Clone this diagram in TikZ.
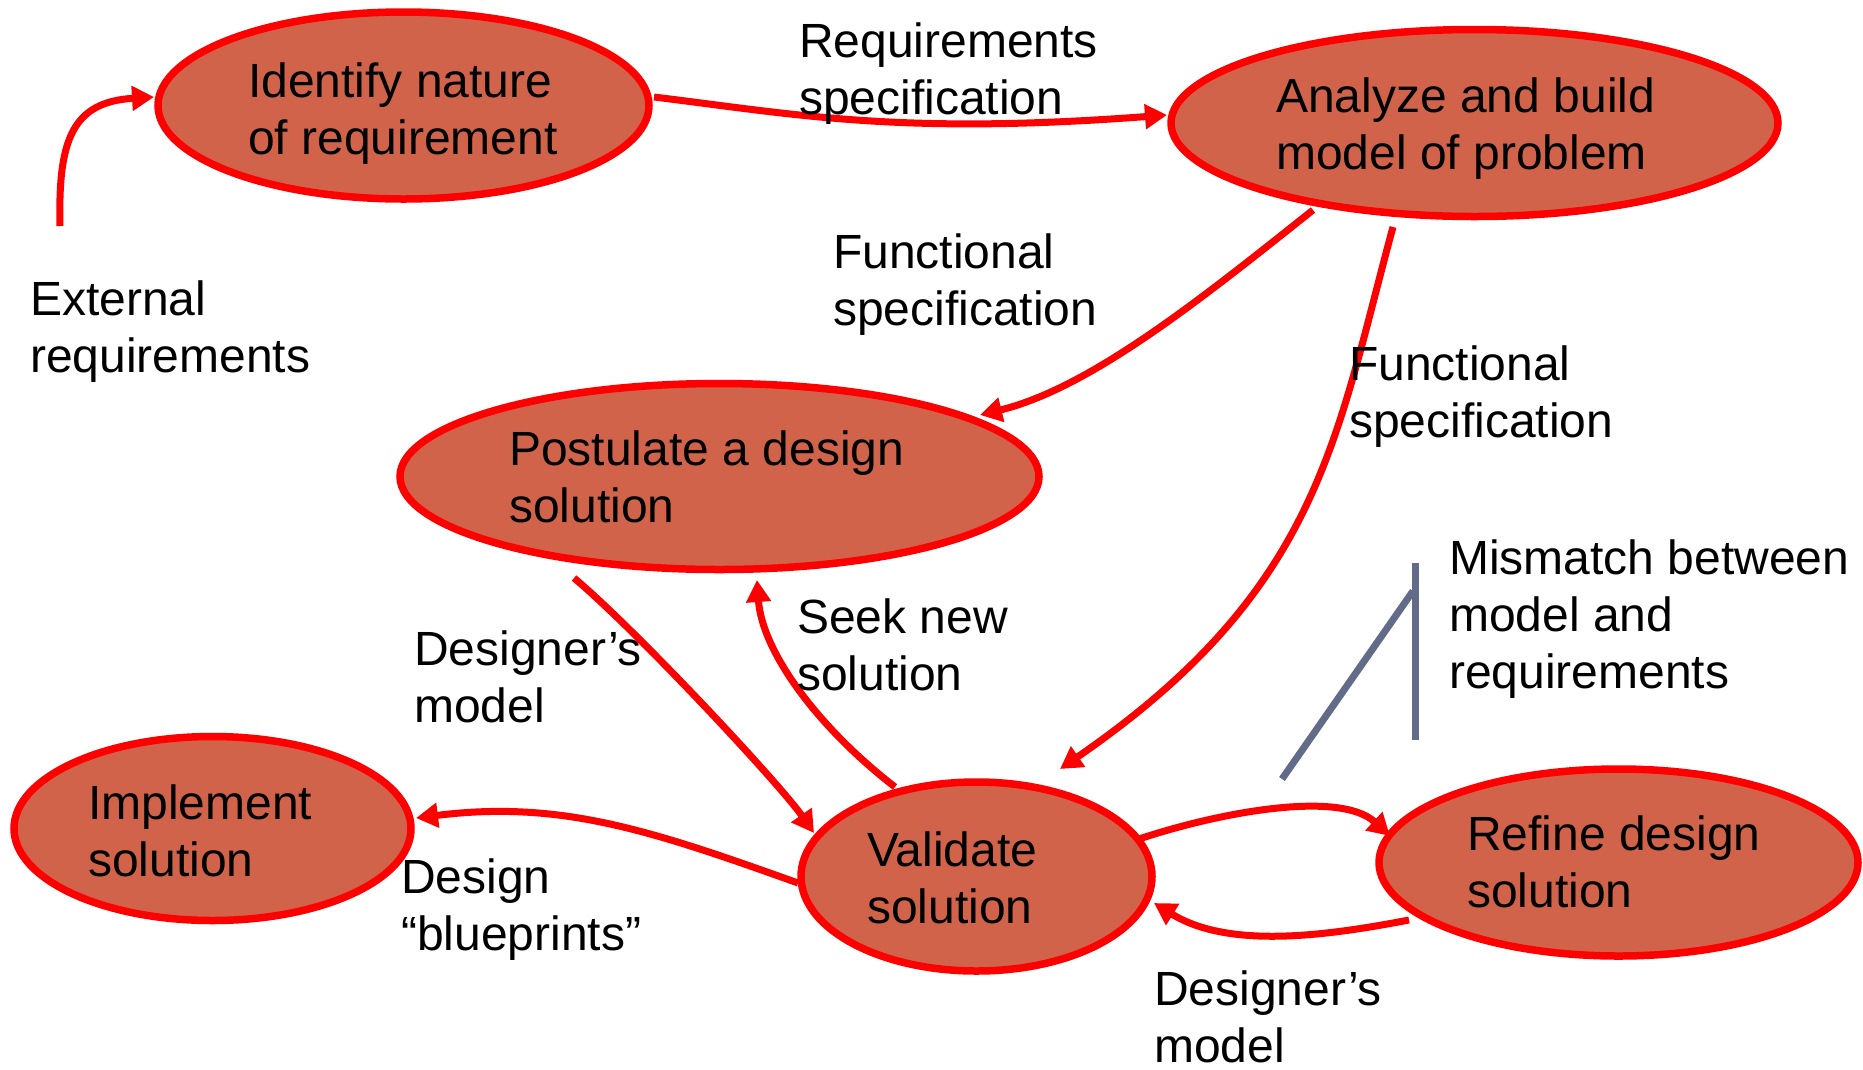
\documentclass[tikz,border=0pt]{standalone}
\usepackage{fontspec}
\setmainfont{Liberation Sans}
\usetikzlibrary{arrows.meta,calc,shapes.geometric}
\definecolor{nodefill}{HTML}{D1634B}
\definecolor{linkred}{HTML}{FF0000}
\definecolor{calloutgray}{HTML}{626C88}

\begin{document}
\begin{tikzpicture}[x=1pt,y=-1pt,
  stage/.style={ellipse, draw=linkred, fill=nodefill, line width=7.5pt, inner sep=0pt},
  lbl/.style={anchor=north west, inner sep=0pt, align=left,
              font=\fontsize{48}{57}\selectfont},
  flow/.style={draw=linkred, line width=7pt,
               -{Triangle[length=22pt,width=24pt]}},
  callout/.style={draw=calloutgray, line width=7pt},
]
\useasboundingbox (0,0) rectangle (1863,1069);

% process stages
\node[stage, minimum width=491pt, minimum height=187pt] (ident) at (403.5,105.5) {};
\node[stage, minimum width=607pt, minimum height=187pt] (ana)   at (1474.5,123) {};
\node[stage, minimum width=639pt, minimum height=186pt] (post)  at (719.5,476.5) {};
\node[stage, minimum width=397pt, minimum height=184pt] (impl)  at (212.5,828.5) {};
\node[stage, minimum width=351pt, minimum height=189pt] (val)   at (976.5,876.5) {};
\node[stage, minimum width=479pt, minimum height=187pt] (ref)   at (1618.5,862.5) {};

% flows between stages
\coordinate (extsrc) at (60,226);
\draw[flow] (extsrc) .. controls (58,140) and (72,102) .. ($(ident.center)+(-249.5,-8.5)$);
\draw[flow] ($(ident.center)+(250.5,-8.5)$) .. controls (800,115) and (900,135)
            .. ($(ana.center)+(-307.5,-8)$);
\draw[flow] ($(ana.center)+(-161.5,87)$) .. controls (1200,300) and (1090,388)
            .. ($(post.center)+(260.5,-61.5)$);
\draw[flow] ($(ana.center)+(-81.5,104)$) .. controls (1335,440) and (1320,590)
            .. ($(val.center)+(83.5,-107.5)$);
\draw[flow] ($(post.center)+(-145.5,101.5)$) .. controls (634,628) and (779,783)
            .. ($(val.center)+(-162.5,-43.5)$);
\draw[flow] ($(val.center)+(-81.5,-89.5)$) .. controls (815,725) and (762,650)
            .. ($(post.center)+(37.5,103.5)$);
\draw[flow] ($(val.center)+(-178.5,6.5)$) .. controls (650,830) and (560,800)
            .. ($(impl.center)+(203.5,-10.5)$);
\draw[flow] ($(val.center)+(162.5,-37.5)$) .. controls (1220,812) and (1340,790)
            .. ($(ref.center)+(-228.5,-26.5)$);
\draw[flow] ($(ref.center)+(-209.5,57.5)$) .. controls (1330,935) and (1230,950)
            .. ($(val.center)+(177.5,26.5)$);

% callout for the mismatch note
\coordinate (ctop) at (1415,563);
\coordinate (cbot) at (1415,740);
\coordinate (cjoin) at (1413,591);
\coordinate (cfoot) at (1282,779);
\draw[callout] (ctop) -- (cbot);
\draw[callout] (cjoin) -- (cfoot);

% stage texts
\node[lbl] (identT) at (248,57)  {\strut Identify nature\\of requirement};
\node[lbl] (anaT)   at (1276,72) {\strut Analyze and build\\model of problem};
\node[lbl] (postT)  at (509,425) {\strut Postulate a design\\solution};
\node[lbl] (implT)  at (88,779)  {\strut Implement\\solution};
\node[lbl] (valT)   at (867,826) {\strut Validate\\solution};
\node[lbl] (refT)   at (1467,810) {\strut Refine design\\solution};

% flow texts
\node[lbl] (reqT)   at (799,17)   {\strut Requirements\\specification};
\node[lbl] (extT)   at (30,275)   {\strut External\\requirements};
\node[lbl] (fs1T)   at (833,228)  {\strut Functional\\specification};
\node[lbl] (fs2T)   at (1349,340) {\strut Functional\\specification};
\node[lbl] (misT)   at (1449,534) {\strut Mismatch between\\model and\\requirements};
\node[lbl] (seekT)  at (797,593)  {\strut Seek new\\solution};
\node[lbl] (dm1T)   at (414,625)  {\strut Designer’s\\model};
\node[lbl] (bluT)   at (401,853)  {\strut Design\\“blueprints”};
\node[lbl] (dm2T)   at (1154,965) {\strut Designer’s\\model};
\end{tikzpicture}
\end{document}
